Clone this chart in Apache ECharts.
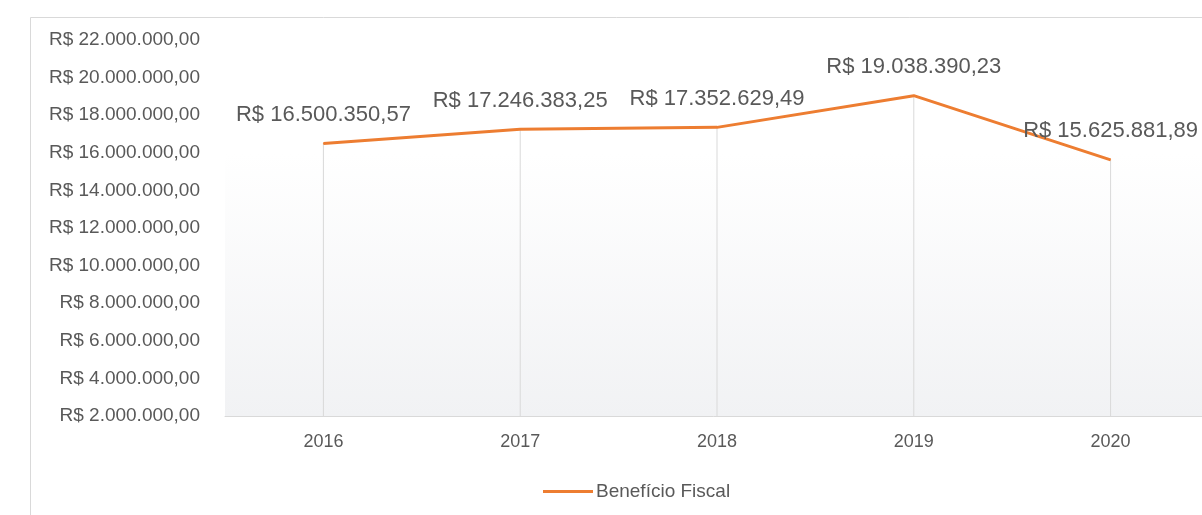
<!DOCTYPE html>
<html>
<head>
<meta charset="utf-8">
<script src="https://cdn.jsdelivr.net/npm/echarts@6/dist/echarts.min.js"></script>
<style>
  html, body { margin: 0; padding: 0; background: #fff; }
  #chart { width: 1202px; height: 515px; }
</style>
</head>
<body>
<div id="chart"></div>
<script>
// dados do gráfico
var anos = ['2016', '2017', '2018', '2019', '2020']
var beneficioFiscal = [16500350.57, 17246383.25, 17352629.49, 19038390.23, 15625881.89]
var nomeSerie = 'Benefício Fiscal'
var eixoMin = 2000000
var eixoMax = 22000000
var eixoPasso = 2000000

// formata em reais: R$ 1.234.567,89
function reais(v) {
  var partes = Number(v).toFixed(2).split('.')
  var inteiro = partes[0].replace(/\B(?=(\d{3})+(?!\d))/g, '.')
  return 'R$ ' + inteiro + ',' + partes[1]
}

var fonte = '"Liberation Sans", Arial, sans-serif'
var cinzaTexto = '#595959'
var cinzaLinha = '#d9d9d9'
var laranja = '#ed7d31'

var chart = echarts.init(document.getElementById('chart'), null, { renderer: 'canvas' })
chart.setOption({
  backgroundColor: '#fff',
  animation: false,
  textStyle: { fontFamily: fonte },
  graphic: [{
    type: 'rect',
    shape: { x: 30.5, y: 17.5, width: 1300, height: 600 },
    style: { fill: 'none', stroke: cinzaLinha, lineWidth: 1 },
    silent: true
  }],
  grid: {
    left: 225,
    top: 40,
    width: 984,
    height: 376,
    outerBoundsMode: 'none',
    containLabel: false,
    show: true,
    borderWidth: 0,
    backgroundColor: new echarts.graphic.LinearGradient(0, 0, 0, 1, [
      { offset: 0, color: '#ffffff' },
      { offset: 0.3, color: '#ffffff' },
      { offset: 1, color: '#f1f2f4' }
    ])
  },
  legend: {
    left: 543,
    top: 482,
    padding: 0,
    itemWidth: 50,
    itemHeight: 3,
    itemGap: 10,
    data: [{ name: nomeSerie, icon: 'rect' }],
    textStyle: { color: cinzaTexto, fontSize: 19, fontFamily: fonte, padding: [0, 0, 0, -2] }
  },
  xAxis: {
    type: 'category',
    data: anos,
    boundaryGap: true,
    axisLine: { lineStyle: { color: cinzaLinha, width: 1 } },
    axisTick: { show: false },
    axisLabel: { color: cinzaTexto, fontSize: 18, margin: 17, fontFamily: fonte },
    splitLine: { show: false }
  },
  yAxis: {
    type: 'value',
    min: eixoMin,
    max: eixoMax,
    interval: eixoPasso,
    axisLine: { show: false },
    axisTick: { show: false },
    splitLine: { show: false },
    axisLabel: {
      color: cinzaTexto,
      fontSize: 19,
      margin: 25,
      fontFamily: fonte,
      formatter: function (v) { return reais(v) }
    }
  },
  series: [
    {
      // linhas verticais de cada ponto até o eixo
      name: 'linhas',
      type: 'bar',
      data: beneficioFiscal,
      barWidth: 1,
      itemStyle: { color: cinzaLinha },
      silent: true,
      z: 1
    },
    {
      name: nomeSerie,
      type: 'line',
      data: beneficioFiscal,
      symbol: 'circle',
      symbolSize: 1,
      showSymbol: true,
      lineStyle: { color: laranja, width: 3 },
      itemStyle: { color: laranja },
      z: 3,
      label: {
        show: true,
        position: 'top',
        distance: 17,
        color: cinzaTexto,
        fontSize: 22,
        fontFamily: fonte,
        formatter: function (p) { return reais(p.value) }
      }
    }
  ]
})
</script>
</body>
</html>
